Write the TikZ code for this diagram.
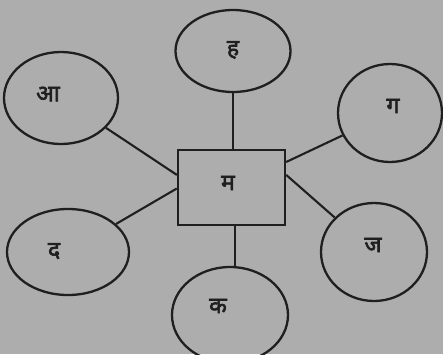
\documentclass[tikz,border=0pt]{standalone}
\usepackage{fontspec}
\newfontfamily\deva[Script=Devanagari,FakeBold=2.5]{Noto Sans}
\usetikzlibrary{shapes.geometric}
\begin{document}
\begin{tikzpicture}[x=1pt,y=-1pt,
  ell/.style={ellipse,draw=black!88,line width=2.3pt,inner sep=0pt},
  box/.style={rectangle,draw=black!88,line width=2.3pt,minimum width=107pt,minimum height=75pt,inner sep=0pt},
  lbl/.style={font=\deva\fontsize{23}{26}\selectfont,text=black!88},
  conn/.style={draw=black!88,line width=2.1pt}]
\fill[gray!64] (0,0) rectangle (443,354);
\useasboundingbox (0,0) rectangle (443,354);
\node[box] (m) at (231.5,187.5) {};
\node[lbl] (tm) at (228,183) {म};
\node[ell,minimum width=115pt,minimum height=82pt] (h) at (233,51) {};
\node[ell,minimum width=114pt,minimum height=92pt] (aa) at (61,98) {};
\node[ell,minimum width=104pt,minimum height=98pt] (g) at (390,113) {};
\node[ell,minimum width=106pt,minimum height=98pt] (j) at (374,252) {};
\node[ell,minimum width=122pt,minimum height=86pt] (d) at (68,252) {};
\node[ell,minimum width=116pt,minimum height=96pt] (k) at (230,315) {};
\node[lbl] (th) at (233,50) {ह};
\node[lbl] (taa) at (48,94) {आ};
\node[lbl] (tg) at (393,106) {ग};
\node[lbl] (tj) at (373,245) {ज};
\node[lbl] (td) at (54,251) {द};
\node[lbl] (tk) at (218,306) {क};
\coordinate (mh) at (m.north -| h);
\coordinate (mk) at ([xshift=3.5pt]m.south);
\draw[conn] (h) -- (mh);
\draw[conn] (k.north -| mk) -- (mk);
\draw[conn] (aa) -- (m.167);
\draw[conn] (d) -- (m.181);
\draw[conn] (g) -- (m.25);
\draw[conn] (j) -- (m.13);
\end{tikzpicture}
\end{document}
